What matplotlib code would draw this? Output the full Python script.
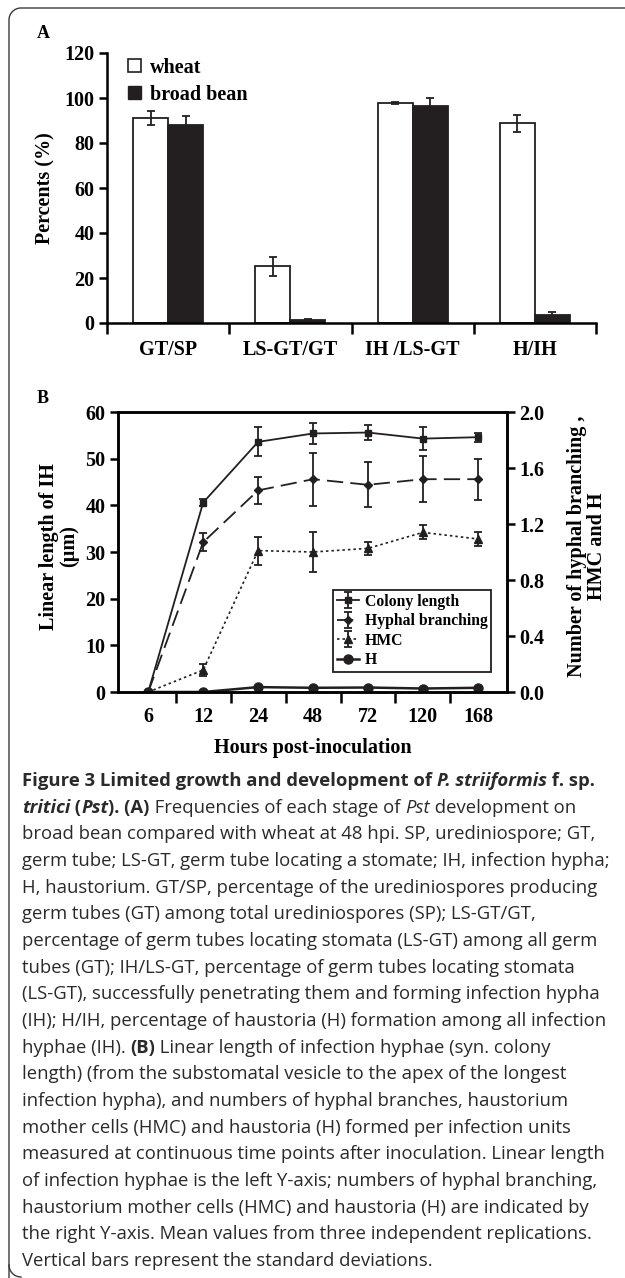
import matplotlib
matplotlib.use("Agg")
from matplotlib import pyplot as plt
from matplotlib.patches import Patch
from matplotlib.lines import Line2D
import numpy as np


# Panel A: frequencies of each development stage (%)
stages = ["GT/SP", "LS-GT/GT", "IH /LS-GT", "H/IH"]
wheat = [91.2, 25.2, 97.8, 88.7]
wheat_sd = [3.2, 4.2, 0.6, 3.7]
bean = [87.8, 1.2, 96.4, 3.5]
bean_sd = [4.4, 0.4, 3.5, 1.3]

# Panel B: growth over time
hours = ["6", "12", "24", "48", "72", "120", "168"]
colony = [0, 40.6, 53.6, 55.4, 55.6, 54.3, 54.6]
colony_sd = [0, 0.8, 3.1, 2.3, 1.6, 2.4, 1.0]
branching = [0, 1.07, 1.44, 1.52, 1.48, 1.52, 1.52]
branching_sd = [0, 0.065, 0.095, 0.19, 0.16, 0.165, 0.145]
hmc = [0, 0.157, 1.01, 1.0, 1.026, 1.14, 1.093]
hmc_sd = [0, 0.04, 0.1, 0.14, 0.045, 0.05, 0.048]
haustoria = [0, 0, 0.035, 0.03, 0.032, 0.025, 0.03]

W, H = 625, 1278
DPI = 100
serif = "Liberation Serif"
ink = "#231f20"

fig = plt.figure(figsize=(W / DPI, H / DPI), dpi=DPI)


def frac(left, top, right, bottom):
    # pixel box (from top-left) -> figure fraction rect
    return [left / W, 1 - bottom / H, (right - left) / W, (bottom - top) / H]


tick_font = dict(family=serif, weight="bold", size=14.5)

# ---------- Panel A ----------
axA = fig.add_axes(frac(107, 53, 596, 323))
x = np.arange(len(stages))
bw = 0.286
err_kw = dict(ecolor=ink, elinewidth=1.3, capsize=3.2, capthick=1.3)
axA.bar(x - bw / 2, wheat, bw, yerr=wheat_sd, color="white", edgecolor=ink,
        linewidth=1.3, error_kw=err_kw, label="wheat")
axA.bar(x + bw / 2, bean, bw, yerr=bean_sd, color=ink, edgecolor=ink,
        linewidth=1.3, error_kw=err_kw, label="broad bean")
axA.set_xlim(-0.5, 3.5)
axA.set_ylim(0, 120)
axA.set_yticks(range(0, 121, 20))
axA.set_xticks(np.arange(-0.5, 3.6, 1.0), [""] * 5)
axA.set_xticks(x, stages, minor=True)
axA.tick_params(axis="x", which="minor", length=0, pad=12)
axA.tick_params(axis="x", which="major", length=8, width=1.8, direction="out")
axA.tick_params(axis="y", length=6, width=1.8, direction="out", pad=3)
for lab in axA.get_xticklabels(minor=True) + axA.get_yticklabels():
    lab.set(**tick_font)
for s in ["top", "right"]:
    axA.spines[s].set_visible(False)
for s in ["left", "bottom"]:
    axA.spines[s].set_linewidth(1.8)
axA.set_ylabel("Percents (%)", **tick_font)
axA.yaxis.set_label_coords(-0.105, 0.5)
axA.legend(handles=[Patch(facecolor="white", edgecolor=ink, linewidth=1.2),
                    Patch(facecolor=ink, edgecolor=ink)],
           labels=["wheat", "broad bean"], loc="upper left",
           bbox_to_anchor=(0.022, 1.02), frameon=False, handlelength=0.65,
           handleheight=0.65, handletextpad=0.45, labelspacing=0.35,
           borderpad=0, prop=dict(family=serif, weight="bold", size=14.5))
fig.text(37 / W, 1 - 33 / H, "A", family=serif, weight="bold", size=13,
         va="center")

# ---------- Panel B ----------
axB = fig.add_axes(frac(118, 412, 507, 692))
axB2 = axB.twinx()
t = np.arange(len(hours))
eb = dict(elinewidth=1.3, capsize=3.2, capthick=1.3, ecolor=ink)
l1 = axB.errorbar(t, colony, yerr=colony_sd, color=ink, lw=1.3, marker="s",
                  ms=5, label="Colony length", **eb)
l2 = axB2.errorbar(t, branching, yerr=branching_sd, color=ink, lw=1.3,
                   marker="D", ms=4.5, dashes=(9, 4), label="Hyphal branching", **eb)
l3 = axB2.errorbar(t, hmc, yerr=hmc_sd, color=ink, lw=1.2, marker="^",
                   ms=5.5, dashes=(1.5, 1.8), label="HMC", **eb)
l4, = axB2.plot(t, haustoria, color=ink, lw=1.8, marker="o", ms=6.5, label="H")
axB.set_xlim(-0.55, 6.53)
axB.set_ylim(0, 60)
axB2.set_ylim(0, 2.0)
axB.set_yticks(range(0, 61, 10))
axB2.set_yticks(np.arange(0, 2.01, 0.4))
axB2.set_yticklabels([f"{v:.1f}" for v in np.arange(0, 2.01, 0.4)])
axB.set_xticks(np.arange(0.5, 6, 1.0), [""] * 6)
axB.set_xticks(t, hours, minor=True)
axB.tick_params(axis="x", which="minor", length=0, pad=11)
axB.tick_params(axis="x", which="major", length=8, width=1.8, direction="out")
axB.tick_params(axis="y", length=6, width=1.8, direction="out", pad=3)
axB2.tick_params(axis="y", length=6, width=1.8, direction="out", pad=3)
for lab in (axB.get_xticklabels(minor=True) + axB.get_yticklabels()
            + axB2.get_yticklabels()):
    lab.set(**tick_font)
for a in (axB, axB2):
    for s in a.spines.values():
        s.set_linewidth(1.8)
axB.set_xlabel("Hours post-inoculation", labelpad=8, **tick_font)
axB.set_ylabel("Linear length of IH\n(\u00b5m)", linespacing=1.0, **tick_font)
axB.yaxis.set_label_coords(-0.10, 0.52)
axB2.set_ylabel("Number of hyphal branching ,\nHMC and H", linespacing=0.95,
                **tick_font)
axB2.yaxis.set_label_coords(1.155, 0.52)
axB2.legend(handles=[l1, l2, l3, l4], loc="lower left",
            bbox_to_anchor=(0.553, 0.071), fancybox=False, edgecolor=ink,
            framealpha=1, handlelength=1.4, handletextpad=0.35,
            labelspacing=0.22, borderpad=0.25, borderaxespad=0,
            prop=dict(family=serif, weight="bold", size=11.3))
axB2.get_legend().get_frame().set_linewidth(1.3)
fig.text(37 / W, 1 - 398 / H, "B", family=serif, weight="bold", size=13,
         va="center")

# ---------- Caption ----------
cap = fig.add_axes([0, 0, 1, 1])
cap.axis("off")
cap.set_xlim(0, W)
cap.set_ylim(H, 0)
B, I, BI, R = ("bold", "normal"), ("normal", "italic"), ("bold", "italic"), ("normal", "normal")
lines = [
    [("Figure 3 Limited growth and development of ", B), ("P. striiformis", BI), (" f. sp.", B)],
    [("tritici", BI), (" (", B), ("Pst", BI), ("). (A)", B), (" Frequencies of each stage of ", R),
     ("Pst", I), (" development on", R)],
    [("broad bean compared with wheat at 48 hpi. SP, urediniospore; GT,", R)],
    [("germ tube; LS-GT, germ tube locating a stomate; IH, infection hypha;", R)],
    [("H, haustorium. GT/SP, percentage of the urediniospores producing", R)],
    [("germ tubes (GT) among total urediniospores (SP); LS-GT/GT,", R)],
    [("percentage of germ tubes locating stomata (LS-GT) among all germ", R)],
    [("tubes (GT); IH/LS-GT, percentage of germ tubes locating stomata", R)],
    [("(LS-GT), successfully penetrating them and forming infection hypha", R)],
    [("(IH); H/IH, percentage of haustoria (H) formation among all infection", R)],
    [("hyphae (IH). ", R), ("(B)", B), (" Linear length of infection hyphae (syn. colony", R)],
    [("length) (from the substomatal vesicle to the apex of the longest", R)],
    [("infection hypha), and numbers of hyphal branches, haustorium", R)],
    [("mother cells (HMC) and haustoria (H) formed per infection units", R)],
    [("measured at continuous time points after inoculation. Linear length", R)],
    [("of infection hyphae is the left Y-axis; numbers of hyphal branching,", R)],
    [("haustorium mother cells (HMC) and haustoria (H) are indicated by", R)],
    [("the right Y-axis. Mean values from three independent replications.", R)],
    [("Vertical bars represent the standard deviations.", R)],
]
cap_font = dict(family="Open Sans", size=13.3, color="#2a2a2a")
for i, parts in enumerate(lines):
    y = 780 + i * 26.67 + 10
    prev = None
    for text, (wt, st) in parts:
        if prev is None:
            prev = cap.text(22, y, text, weight=wt, style=st, va="bottom",
                            ha="left", **cap_font)
        else:
            prev = cap.annotate(text, xy=(1, 0), xycoords=prev, weight=wt,
                                style=st, va="bottom", ha="left", **cap_font)

# rounded frame, cut off at the right and bottom edges
r = 12
arc = np.linspace(np.pi, np.pi / 2, 20)
fx = np.concatenate([[9], 9 + r + r * np.cos(arc), [W + 5]])
fy = np.concatenate([[H + 5], 8 + r - r * np.sin(arc), [8]])
cap.add_line(Line2D(fx, fy, color="#3a3a3a", lw=1.0))
# bottom-left corner
arc2 = np.linspace(np.pi, 1.5 * np.pi, 20)
cap.add_line(Line2D(9 + r + r * np.cos(arc2), H - 1 - r - r * np.sin(arc2),
                    color="#3a3a3a", lw=1.0))

fig.savefig("out.png", dpi=DPI)
